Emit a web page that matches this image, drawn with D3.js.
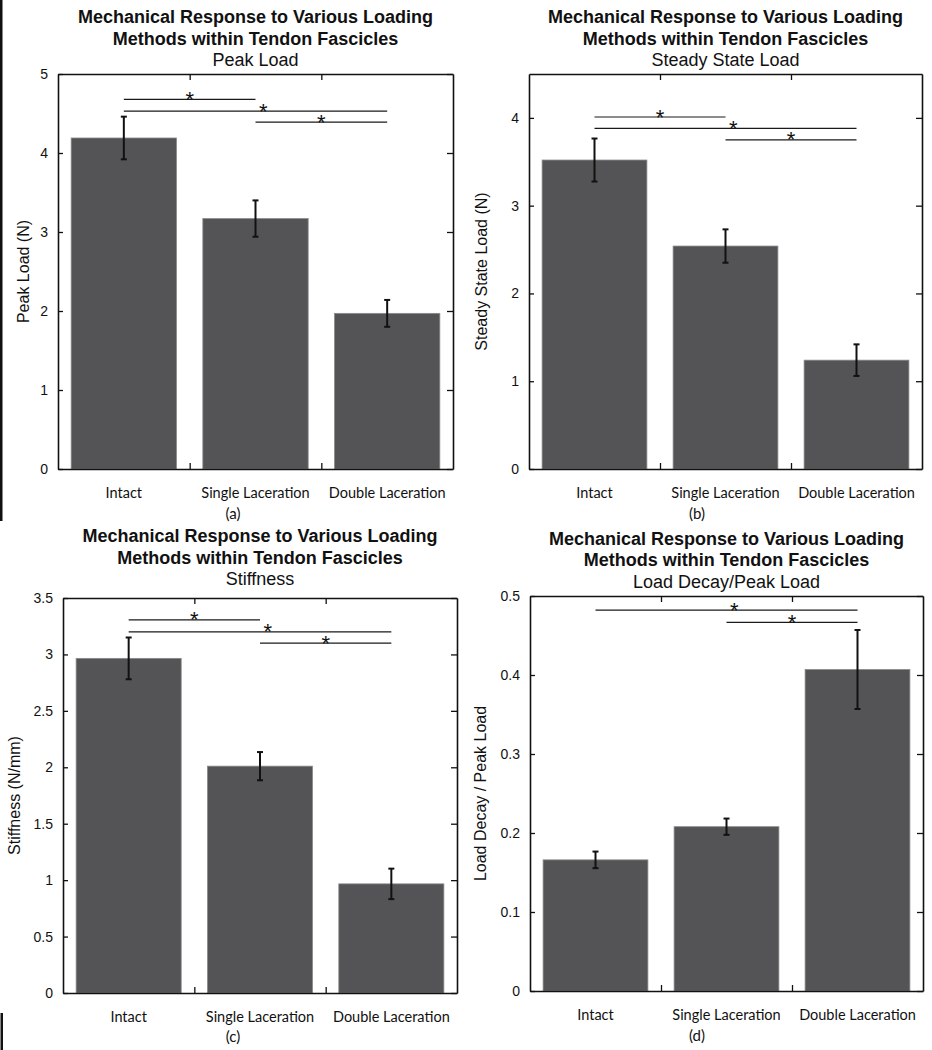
<!DOCTYPE html>
<html>
<head>
<meta charset="utf-8">
<script src="https://cdn.jsdelivr.net/npm/d3@7"></script>
<style>
  html, body { margin: 0; padding: 0; background: #fff; }
  svg { display: block; }
</style>
</head>
<body>
<svg id="chart" width="932" height="1050"></svg>
<script>
// ---------------- DATA ----------------
const categories = ["Intact", "Single Laceration", "Double Laceration"];

const peakLoad      = [4.19, 3.17, 1.97];
const peakLoadErr   = [0.27, 0.23, 0.17];
const peakTicks     = [0, 1, 2, 3, 4, 5];

const steadyLoad    = [3.52, 2.54, 1.24];
const steadyLoadErr = [0.245, 0.19, 0.18];
const steadyTicks   = [0, 1, 2, 3, 4];

const stiffness     = [2.965, 2.01, 0.967];
const stiffnessErr  = [0.185, 0.125, 0.135];
const stiffTicks    = [0, 0.5, 1, 1.5, 2, 2.5, 3, 3.5];

const decayRatio    = [0.166, 0.208, 0.407];
const decayRatioErr = [0.0105, 0.0103, 0.05];
const decayTicks    = [0, 0.1, 0.2, 0.3, 0.4, 0.5];

// significance brackets: [fromIndex, toIndex, level]
const peakSig   = [[0, 1, 4.68], [0, 2, 4.53], [1, 2, 4.39]];
const steadySig = [[0, 1, 4.01], [0, 2, 3.88], [1, 2, 3.75]];
const stiffSig  = [[0, 1, 3.307], [0, 2, 3.20], [1, 2, 3.10]];
const decaySig  = [[0, 2, 0.482], [1, 2, 0.4667]];

const mainTitle = ["Mechanical Response to Various Loading", "Methods within Tendon Fascicles"];
const subTitles = ["Peak Load", "Steady State Load", "Stiffness", "Load Decay/Peak Load"];
const yLabels   = ["Peak Load (N)", "Steady State Load (N)", "Stiffness (N/mm)", "Load Decay / Peak Load"];
const captions  = ["(a)", "(b)", "(c)", "(d)"];
const yMax      = [5, 4.5, 3.5, 0.5];

// ---------------- LAYOUT ----------------
const panels = [
  { vals: peakLoad,   err: peakLoadErr,   ticks: peakTicks,   sig: peakSig,   fmt: d3.format("d"),
    x0: 58,  x1: 453, y0: 74,  y1: 469, titleY: 23,  ylabX: 23,  capX: 233, capY: 519 },
  { vals: steadyLoad, err: steadyLoadErr, ticks: steadyTicks, sig: steadySig, fmt: d3.format("d"),
    x0: 529, x1: 922, y0: 74,  y1: 469, titleY: 23,  ylabX: 481, capX: 697, capY: 519 },
  { vals: stiffness,  err: stiffnessErr,  ticks: stiffTicks,  sig: stiffSig,  fmt: d => String(d),
    x0: 63,  x1: 457, y0: 598, y1: 993, titleY: 542, ylabX: 14,  capX: 233, capY: 1042 },
  { vals: decayRatio, err: decayRatioErr, ticks: decayTicks,  sig: decaySig,  fmt: d => String(d),
    x0: 530, x1: 923, y0: 596, y1: 991, titleY: 544.5, ylabX: 480, capX: 697, capY: 1041 }
];

const svg = d3.select("#chart");
const FONT = "'Liberation Sans', Arial, sans-serif";
const FONT2 = "Lato, 'Open Sans', sans-serif";
const BAR = "#545456";

// left-edge page rules
svg.append("rect").attr("x", 0).attr("y", 0).attr("width", 2.5).attr("height", 521).attr("fill", "#111");
svg.append("rect").attr("x", 0.5).attr("y", 1013).attr("width", 2.5).attr("height", 37).attr("fill", "#111");

panels.forEach((p, i) => {
  const g = svg.append("g");
  const x = d3.scaleBand().domain(categories).range([p.x0, p.x1]).padding(0);
  const xi = d3.scaleLinear().domain([0, categories.length]).range([p.x0, p.x1]);
  const y = d3.scaleLinear().domain([0, yMax[i]]).range([p.y1, p.y0]);
  const bw = x.bandwidth() * 0.8;
  const cx = c => x(c) + x.bandwidth() / 2;

  // bars
  g.selectAll("rect.bar").data(categories).join("rect")
    .attr("x", c => cx(c) - bw / 2)
    .attr("width", bw)
    .attr("y", (c, k) => y(p.vals[k]))
    .attr("height", (c, k) => y(0) - y(p.vals[k]))
    .attr("fill", BAR)
    .attr("stroke", "#8a8a8c")
    .attr("stroke-width", 0.8);

  // error bars
  const eg = g.selectAll("g.err").data(categories).join("g").attr("stroke", "#111").attr("stroke-width", 2);
  eg.append("line")
    .attr("x1", c => cx(c)).attr("x2", c => cx(c))
    .attr("y1", (c, k) => y(p.vals[k] + p.err[k]))
    .attr("y2", (c, k) => y(p.vals[k] - p.err[k]));
  eg.append("line")
    .attr("x1", c => cx(c) - 3).attr("x2", c => cx(c) + 3)
    .attr("y1", (c, k) => y(p.vals[k] + p.err[k]))
    .attr("y2", (c, k) => y(p.vals[k] + p.err[k]));
  eg.append("line")
    .attr("x1", c => cx(c) - 3).attr("x2", c => cx(c) + 3)
    .attr("y1", (c, k) => y(p.vals[k] - p.err[k]))
    .attr("y2", (c, k) => y(p.vals[k] - p.err[k]));

  // significance brackets
  p.sig.forEach(s => {
    const xa = cx(categories[s[0]]), xb = cx(categories[s[1]]);
    const yy = y(s[2]);
    g.append("line").attr("x1", xa).attr("x2", xb).attr("y1", yy).attr("y2", yy)
      .attr("stroke", "#1a1a1a").attr("stroke-width", 1.2);
    const frac = (s[1] - s[0] === 2) ? 0.53 : 0.5;
    g.append("text").attr("x", xa + (xb - xa) * frac).attr("y", yy + 7.5)
      .attr("text-anchor", "middle").attr("font-family", FONT).attr("font-size", 22)
      .attr("fill", "#111").text("*");
  });

  // axes
  const axL = g.append("g").attr("transform", `translate(${p.x0},0)`)
    .call(d3.axisLeft(y).tickValues(p.ticks).tickFormat(p.fmt).tickSizeInner(-5).tickSizeOuter(0).tickPadding(10));
  const axR = g.append("g").attr("transform", `translate(${p.x1},0)`)
    .call(d3.axisRight(y).tickValues(p.ticks).tickFormat("").tickSizeInner(-6).tickSizeOuter(0));
  const axT = g.append("g").attr("transform", `translate(0,${p.y0})`)
    .call(d3.axisTop(xi).tickValues([1, 2]).tickFormat("").tickSizeInner(-6).tickSizeOuter(0));
  const axB = g.append("g").attr("transform", `translate(0,${p.y1})`)
    .call(d3.axisBottom(xi).tickValues([1, 2]).tickFormat("").tickSizeInner(-6).tickSizeOuter(0));
  const axX = g.append("g").attr("transform", `translate(0,${p.y1})`)
    .call(d3.axisBottom(x).tickSize(0).tickPadding(19));
  axX.select(".domain").remove();

  [axL, axR, axT, axB].forEach(a => {
    a.select(".domain").attr("stroke", "#111").attr("stroke-width", 1.6);
    a.selectAll(".tick line").attr("stroke", "#111").attr("stroke-width", 1.3);
  });
  axL.selectAll(".tick text").attr("font-family", FONT).attr("font-size", 14).attr("fill", "#111");
  axX.selectAll(".tick text").attr("font-family", FONT2).attr("font-size", 14.5).attr("fill", "#111");

  // titles
  const tcx = (p.x0 + p.x1) / 2;
  g.append("text").attr("x", tcx).attr("y", p.titleY).attr("text-anchor", "middle")
    .attr("font-family", FONT).attr("font-weight", "bold").attr("font-size", 18).attr("fill", "#111")
    .text(mainTitle[0]);
  g.append("text").attr("x", tcx).attr("y", p.titleY + 21.5).attr("text-anchor", "middle")
    .attr("font-family", FONT).attr("font-weight", "bold").attr("font-size", 18).attr("fill", "#111")
    .text(mainTitle[1]);
  g.append("text").attr("x", tcx).attr("y", p.titleY + 43).attr("text-anchor", "middle")
    .attr("font-family", FONT).attr("font-size", 18).attr("fill", "#111")
    .text(subTitles[i]);

  // y label
  g.append("text")
    .attr("transform", `translate(${p.ylabX},${(p.y0 + p.y1) / 2}) rotate(-90)`)
    .attr("text-anchor", "middle").attr("dominant-baseline", "central")
    .attr("font-family", FONT).attr("font-size", 16).attr("fill", "#111")
    .text(yLabels[i]);

  // caption
  g.append("text").attr("x", p.capX).attr("y", p.capY).attr("text-anchor", "middle")
    .attr("font-family", FONT2).attr("font-size", 15).attr("fill", "#111")
    .text(captions[i]);
});
</script>
</body>
</html>
